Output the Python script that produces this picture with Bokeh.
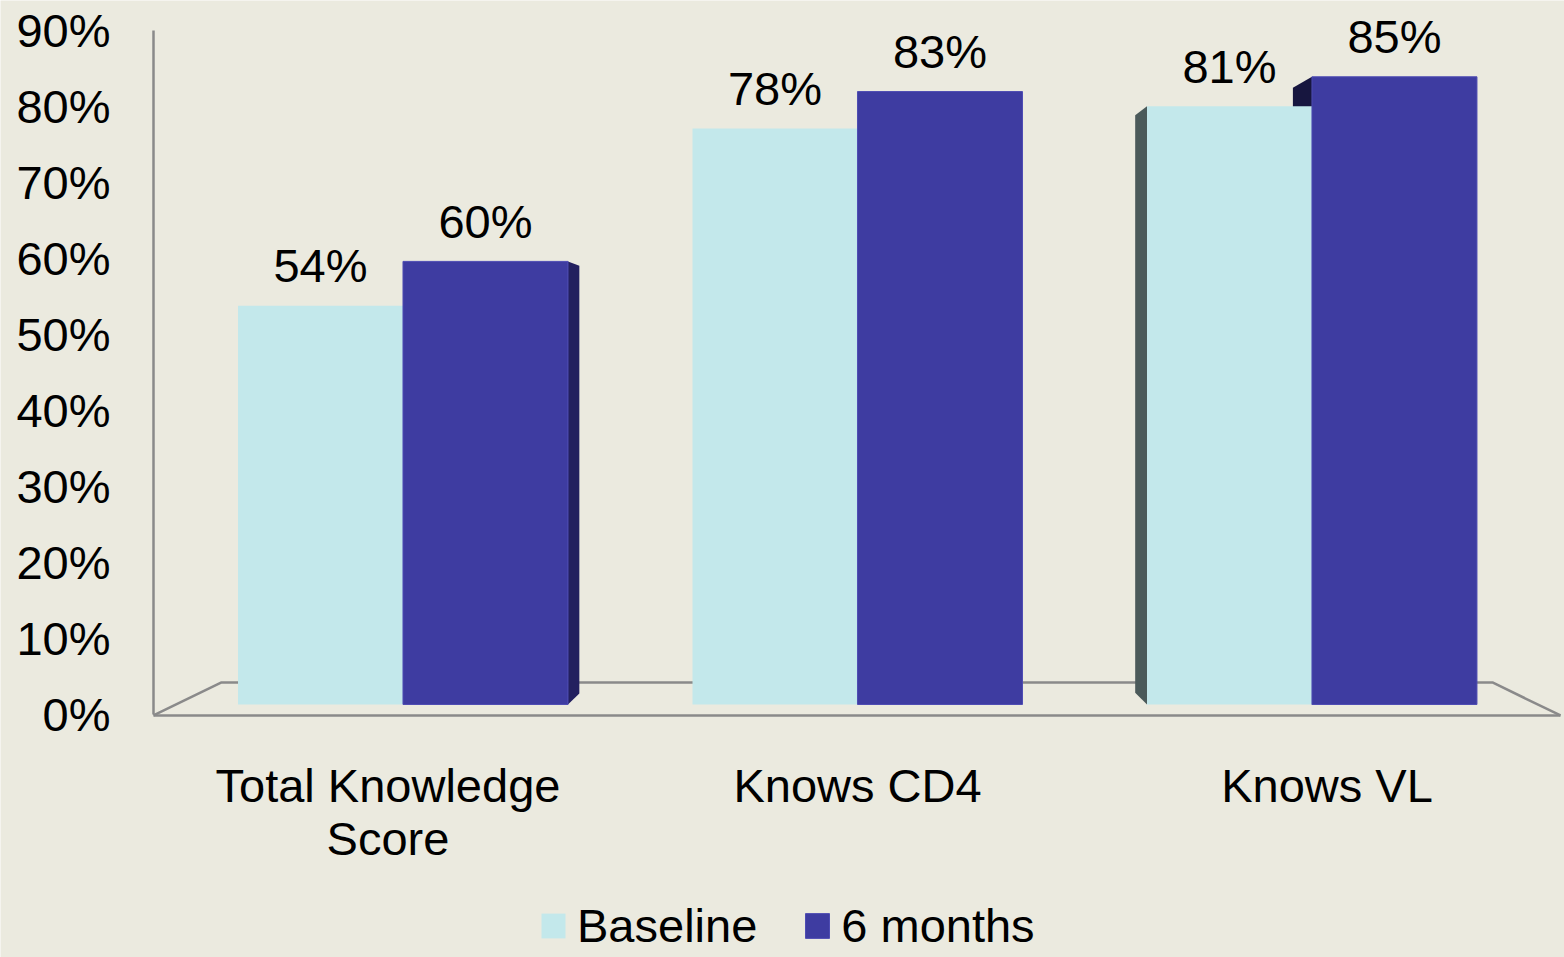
from bokeh.plotting import figure
from bokeh.models import (Range1d, LinearAxis, FixedTicker, Legend, LegendItem,
                          ColumnDataSource)
from bokeh.core.properties import value
from bokeh.embed import file_html
from bokeh.resources import INLINE

# ---- data -------------------------------------------------------------
categories = ["Total Knowledge\nScore", "Knows CD4", "Knows VL"]
baseline = [54, 78, 81]
six_months = [60, 83, 85]
series_names = ["Baseline", "6 months"]
y_ticks = [0, 10, 20, 30, 40, 50, 60, 70, 80, 90]
y_tick_labels = [f"{t}%" for t in y_ticks]

# ---- style ------------------------------------------------------------
BG = "#ebeadf"
BASE_COLOR = "#c3e8eb"
SIX_COLOR = "#3e3ca1"
SIDE_DARK = "#23205f"
SIDE_DARKER = "#17163f"
SIDE_GREY = "#4b5a5a"
LINE_GREY = "#8a8a8a"
FONT = "Liberation Sans"
FS = "47px"

BAR_W = 0.363          # width of one bar (category spacing = 1)
DEPTH = 0.025          # visible depth of a side face

W, H = 1564, 957
p = figure(width=W, height=H, output_backend="svg", toolbar_location=None,
           x_range=Range1d(-0.8856, 2.5556), y_range=Range1d(-34.26, 95.33),
           x_axis_type=None, y_axis_type=None, min_border=0)
p.background_fill_color = BG
p.border_fill_color = BG
p.outline_line_color = None
p.grid.visible = False

# separate scales for the tick labels (front plane of the 3D box)
p.extra_y_ranges = {"pct": Range1d(-31.95, 93.88)}
p.extra_x_ranges = {"cat": Range1d(-0.8253, 2.5059)}

idx = list(range(len(categories)))
x_base = [i - BAR_W / 2 for i in idx]
x_six = [i + BAR_W / 2 for i in idx]

# ---- floor of the 3D box ----------------------------------------------
fx_front = [-0.549, 2.5468]
fx_back = [-0.3993, 2.3971]
fy_front, fy_back = -1.49, 2.98
p.multi_line(xs=[[fx_front[0], fx_back[0], fx_back[1], fx_front[1]],
                 [fx_front[0], fx_front[1]]],
             ys=[[fy_front, fy_back, fy_back, fy_front],
                 [fy_front, fy_front]],
             line_color=LINE_GREY, line_width=2.5)

# ---- side faces that show in perspective ------------------------------
# right face of the first "6 months" bar
r0 = idx[0] + BAR_W
p.patch([r0, r0 + DEPTH, r0 + DEPTH, r0],
        [six_months[0], six_months[0] - 0.6, 1.5, 0],
        fill_color=SIDE_DARK, line_color=None)
# left face of the last "6 months" bar (mostly behind the baseline bar)
l0 = idx[2]
p.patch([l0, l0 - 0.042, l0 - 0.042, l0],
        [six_months[2], six_months[2] - 1.5, 1.5, 0],
        fill_color=SIDE_DARKER, line_color=None)
# left face of the last baseline bar
l1 = idx[2] - BAR_W
p.patch([l1, l1 - 0.026, l1 - 0.026, l1],
        [baseline[2], baseline[2] - 1.2, 1.6, 0],
        fill_color=SIDE_GREY, line_color=None)

# ---- bars -------------------------------------------------------------
src = ColumnDataSource(dict(xb=x_base, xs=x_six, b=baseline, s=six_months,
                            bl=[f"{v}%" for v in baseline],
                            sl=[f"{v}%" for v in six_months]))
rb = p.vbar(x="xb", top="b", bottom=0, width=BAR_W, source=src,
            fill_color=BASE_COLOR, line_color=None)
rs = p.vbar(x="xs", top="s", bottom=0, width=BAR_W, source=src,
            fill_color=SIX_COLOR, line_color="#4e4cb3", line_width=1)

# value labels above each bar
for xcol, ycol, tcol in (("xb", "b", "bl"), ("xs", "s", "sl")):
    p.text(x=xcol, y=ycol, text=tcol, source=src, text_align="center",
           text_baseline="alphabetic", y_offset=-40,
           text_font=value(FONT), text_font_size=FS, text_color="black")

# ---- axes -------------------------------------------------------------
yaxis = LinearAxis(y_range_name="pct", ticker=FixedTicker(ticks=y_ticks),
                   major_label_overrides=dict(zip(y_ticks, y_tick_labels)),
                   fixed_location=-0.549, bounds=(0, 90),
                   axis_line_color=LINE_GREY, axis_line_width=2.5,
                   major_tick_line_color=None, minor_tick_line_color=None,
                   major_label_standoff=37,
                   major_label_text_font=FONT, major_label_text_font_size=FS,
                   major_label_text_color="black")
p.add_layout(yaxis, "left")

xaxis = LinearAxis(x_range_name="cat", ticker=FixedTicker(ticks=idx),
                   major_label_overrides=dict(zip(idx, categories)),
                   fixed_location=-1.49,
                   axis_line_color=None, major_tick_line_color=None,
                   minor_tick_line_color=None, major_label_standoff=38,
                   major_label_text_font=FONT, major_label_text_font_size=FS,
                   major_label_text_line_height=1.0,
                   major_label_text_color="black")
p.add_layout(xaxis, "below")

# ---- legend -----------------------------------------------------------
legend = Legend(items=[LegendItem(label=series_names[0], renderers=[rb]),
                       LegendItem(label=series_names[1], renderers=[rs])],
                orientation="horizontal", location=(538, 4),
                glyph_width=30, glyph_height=31, label_standoff=9, spacing=45,
                padding=0, margin=0, background_fill_alpha=0,
                border_line_color=None, label_text_font=FONT,
                label_text_font_size=FS, label_text_color="black")
p.add_layout(legend, "center")

open("out.html", "w").write(file_html(p, INLINE))
